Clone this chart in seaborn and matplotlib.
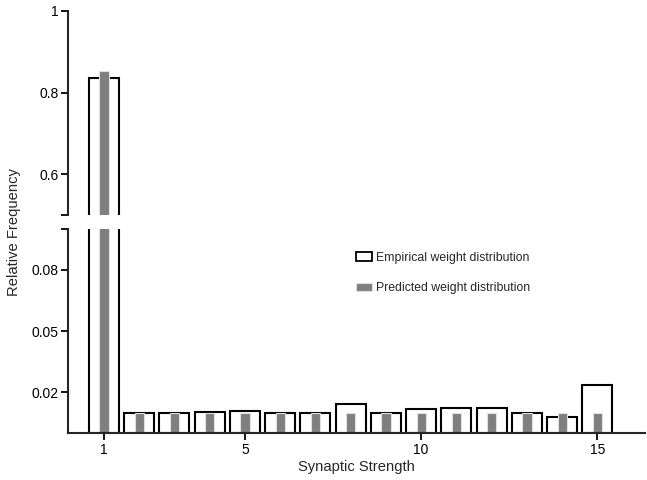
import matplotlib
matplotlib.use("Agg")
import matplotlib.pyplot as plt
import matplotlib.patches as mpatches
import seaborn as sns
import pandas as pd

strength = list(range(1, 16))
empirical = [0.835, 0.0101, 0.0098, 0.0106, 0.0111, 0.0101, 0.0098, 0.0143,
             0.0098, 0.0118, 0.0123, 0.0126, 0.0098, 0.0082, 0.0236]
predicted = [0.854, 0.0099, 0.0097, 0.0098, 0.0097, 0.0098, 0.0097, 0.0097,
             0.0097, 0.0097, 0.0097, 0.0097, 0.0097, 0.0098, 0.0097]
top_ticks = [0.5, 0.6, 0.8, 1.0]
top_labels = ["", "0.6", "0.8", "1"]
bot_ticks = [0.02, 0.05, 0.08, 0.1]
bot_labels = ["0.02", "0.05", "0.08", ""]
x_ticks = [1, 5, 10, 15]

sns.set_theme(style="ticks")
plt.rcParams["font.family"] = ["Liberation Sans", "DejaVu Sans"]

df = pd.DataFrame({"Strength": strength, "Empirical": empirical, "Predicted": predicted})

W, H = 647, 480
fig = plt.figure(figsize=(W / 100, H / 100), dpi=100)
left, right = 68 / W, 645 / W
ax_top = fig.add_axes([left, (H - 215) / H, right - left, 204 / H])
ax_bot = fig.add_axes([left, (H - 433.3) / H, right - left, 204.3 / H])

for ax in (ax_top, ax_bot):
    sns.barplot(data=df, x="Strength", y="Empirical", native_scale=True, width=0.85,
                color="white", edgecolor="black", linewidth=1.5, saturation=1,
                errorbar=None, ax=ax)
    sns.barplot(data=df, x="Strength", y="Predicted", native_scale=True, width=0.26,
                color="#7f7f7f", edgecolor="#e0e0e0", linewidth=0.8, saturation=1,
                errorbar=None, ax=ax)
    ax.set_xlim(-0.02, 16.35)
    ax.set_ylabel("")
    ax.set_xlabel("")
    for s in ("top", "right"):
        ax.spines[s].set_visible(False)
    ax.spines["left"].set_linewidth(1.5)
    ax.spines["bottom"].set_linewidth(1.5)
    ax.tick_params(axis="both", direction="out", length=5, width=1.3,
                   labelsize=10, colors="black", pad=2)

ax_top.set_ylim(0.5, 1.0)
ax_top.spines["bottom"].set_visible(False)
ax_top.set_xticks([])
ax_top.set_yticks(top_ticks)
ax_top.set_yticklabels(top_labels)

ax_bot.set_ylim(0, 0.1)
ax_bot.set_yticks(bot_ticks)
ax_bot.set_yticklabels(bot_labels)
ax_bot.set_xticks(x_ticks)
ax_bot.set_xticklabels([str(t) for t in x_ticks])
ax_bot.set_xlabel("Synaptic Strength", fontsize=10.6, labelpad=2)

fig.text(0.022, (H - 232) / H, "Relative Frequency", rotation=90,
         ha="center", va="center", fontsize=10.6)

handles = [
    mpatches.Patch(facecolor="white", edgecolor="black", linewidth=1.3,
                   label="Empirical weight distribution"),
    mpatches.Patch(facecolor="#7f7f7f", edgecolor="#e0e0e0", linewidth=0.8,
                   label="Predicted weight distribution"),
]
fig.legend(handles=handles, loc="upper left", bbox_to_anchor=(356 / W, (H - 252) / H),
           frameon=False, fontsize=8.8, handlelength=1.3, handleheight=0.7,
           handletextpad=0.35, labelspacing=1.5, borderpad=0, borderaxespad=0)

fig.savefig("out.png", dpi=100)
